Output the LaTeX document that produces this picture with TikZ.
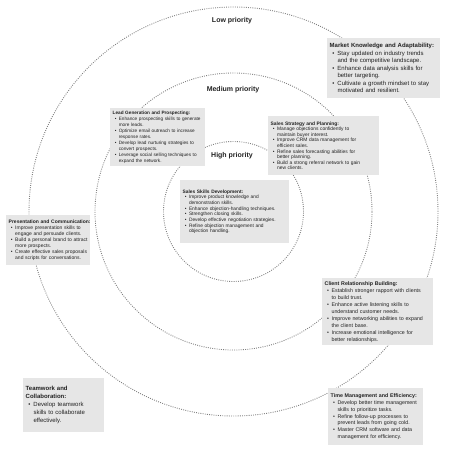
\documentclass[tikz,border=0pt]{standalone}
\usepackage{fontspec}
\setmainfont{Liberation Sans}
\usepackage{tikz}
\usepackage{xcolor}
\definecolor{boxgray}{HTML}{E6E6E6}
\definecolor{inkgray}{HTML}{222222}
\newcommand{\head}[1]{\mbox{\textbf{#1}}}
\newcommand{\itm}[1]{\hspace*{0.45em}\textbullet\hspace{0.5em}\mbox{#1}}
\newcommand{\cnt}[1]{\hspace*{0.45em}\phantom{\textbullet}\hspace{0.5em}\mbox{#1}}
\newcommand{\fs}[2]{\fontsize{#1}{#2}\selectfont}

\begin{document}
\begin{tikzpicture}[x=1pt,y=-1pt]
\tikzset{
  ring/.style={draw=gray, line width=0.9pt, dash pattern=on 0.9pt off 1.3pt, circle},
  tier/.style={font=\bfseries\fs{7}{8}, text=inkgray},
  skillbox/.style={fill=boxgray, anchor=north west, align=left, inner xsep=2.5pt, inner ysep=3pt, text=inkgray}
}
\useasboundingbox (0,0) rectangle (474,453);
% priority rings
\node[ring, minimum size=409pt] (LOW) at (233.5,211.5) {};
\node[ring, minimum size=277pt] (MED) at (233.5,211.5) {};
\node[ring, minimum size=140pt] (HIGH) at (233.5,211.5) {};
\node[tier] (LOWL) at (232,21) {Low priority};
\node[tier] (MEDL) at (233,90) {Medium priority};
\node[tier] (HIGHL) at (232,156) {High priority};
% skill boxes
\node[skillbox, text width=108pt, minimum height=60pt, font=\fs{6.0}{7.5}] (MK) at (327,38)
  {\head{Market Knowledge and Adaptability:}\\
   \itm{Stay updated on industry trends}\\ \cnt{and the competitive landscape.}\\
   \itm{Enhance data analysis skills for}\\ \cnt{better targeting.}\\
   \itm{Cultivate a growth mindset to stay}\\ \cnt{motivated and resilient.}};
\node[skillbox, text width=90pt, minimum height=58pt, font=\fs{4.7}{5.9}] (LG) at (110,108)
  {\head{Lead Generation and Prospecting:}\\
   \itm{Enhance prospecting skills to generate}\\ \cnt{more leads.}\\
   \itm{Optimize email outreach to increase}\\ \cnt{response rates.}\\
   \itm{Develop lead nurturing strategies to}\\ \cnt{convert prospects.}\\
   \itm{Leverage social selling techniques to}\\ \cnt{expand the network.}};
\node[skillbox, text width=106pt, minimum height=59pt, font=\fs{4.9}{5.6}] (SP) at (268,116)
  {\head{Sales Strategy and Planning:}\\
   \itm{Manage objections confidently to}\\ \cnt{maintain buyer interest.}\\
   \itm{Improve CRM data management for}\\ \cnt{efficient sales.}\\
   \itm{Refine sales forecasting abilities for}\\ \cnt{better planning.}\\
   \itm{Build a strong referral network to gain}\\ \cnt{new clients.}};
\node[skillbox, text width=104pt, minimum height=63pt, font=\fs{4.85}{5.7}] (SS) at (180,180)
  {\head{Sales Skills Development:}\\
   \itm{Improve product knowledge and}\\ \cnt{demonstration skills.}\\
   \itm{Enhance objection-handling techniques.}\\
   \itm{Strengthen closing skills.}\\
   \itm{Develop effective negotiation strategies.}\\
   \itm{Refine objection management and}\\ \cnt{objection handling.}};
\node[skillbox, text width=79pt, minimum height=50pt, font=\fs{5.0}{5.9}] (PC) at (6,215)
  {\head{Presentation and Communication:}\\
   \itm{Improve presentation skills to}\\ \cnt{engage and persuade clients.}\\
   \itm{Build a personal brand to attract}\\ \cnt{more prospects.}\\
   \itm{Create effective sales proposals}\\ \cnt{and scripts for conversations.}};
\node[skillbox, text width=106pt, minimum height=67pt, font=\fs{5.3}{7}] (CR) at (322,278)
  {\head{Client Relationship Building:}\\
   \itm{Establish stronger rapport with clients}\\ \cnt{to build trust.}\\
   \itm{Enhance active listening skills to}\\ \cnt{understand customer needs.}\\
   \itm{Improve networking abilities to expand}\\ \cnt{the client base.}\\
   \itm{Increase emotional intelligence for}\\ \cnt{better relationships.}};
\node[skillbox, text width=90pt, minimum height=57pt, font=\fs{5.3}{6.7}] (TM) at (328,388)
  {\head{Time Management and Efficiency:}\\
   \itm{Develop better time management}\\ \cnt{skills to prioritize tasks.}\\
   \itm{Refine follow-up processes to}\\ \cnt{prevent leads from going cold.}\\
   \itm{Master CRM software and data}\\ \cnt{management for efficiency.}};
\node[skillbox, text width=76pt, minimum height=54pt, font=\fs{6.0}{8}] (TC) at (23,378)
  {\head{Teamwork and}\\ \head{Collaboration:}\\
   \itm{Develop teamwork}\\ \cnt{skills to collaborate}\\ \cnt{effectively.}};
\end{tikzpicture}
\end{document}
